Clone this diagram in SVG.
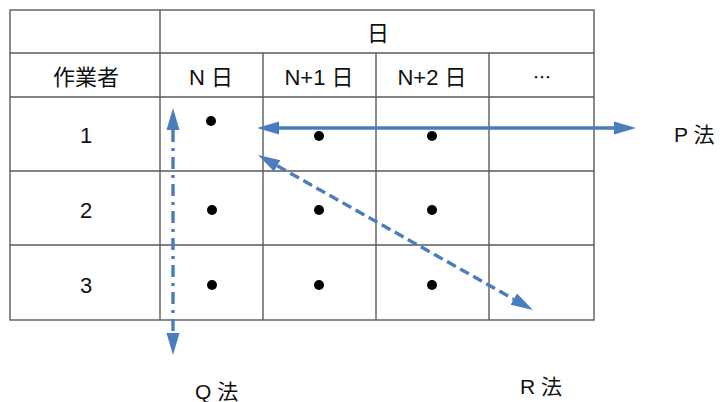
<svg xmlns="http://www.w3.org/2000/svg" width="726" height="402" viewBox="0 0 726 402">
<style>
.grid{stroke:#5a5a5a;stroke-width:1.4;fill:none}
.t{font-family:"Liberation Sans","Noto Sans CJK JP",sans-serif;font-size:22px;fill:#111;text-anchor:middle}
.lbl{font-family:"Liberation Sans","Noto Sans CJK JP",sans-serif;font-size:21px;fill:#111}
.dot{fill:#000}
.arr{stroke:#4a7dbd;stroke-width:3.4;fill:none}
</style>
<defs>
<marker id="ah" markerUnits="userSpaceOnUse" markerWidth="24" markerHeight="16" viewBox="0 -8 24 16" refX="0" refY="0" orient="auto-start-reverse">
<path d="M0,-6.5 L22,0 L0,6.5 z" fill="#4a7dbd"/>
</marker>
</defs>
<rect width="726" height="402" fill="#fff"/>
<g id="table">
<rect class="grid" x="10" y="10" width="584" height="310"/>
<line class="grid" x1="10" y1="53" x2="594" y2="53"/>
<line class="grid" x1="10" y1="97" x2="594" y2="97"/>
<line class="grid" x1="10" y1="171" x2="594" y2="171"/>
<line class="grid" x1="10" y1="245" x2="594" y2="245"/>
<line class="grid" x1="160" y1="10" x2="160" y2="320"/>
<line class="grid" x1="263" y1="53" x2="263" y2="320"/>
<line class="grid" x1="376" y1="53" x2="376" y2="320"/>
<line class="grid" x1="489" y1="53" x2="489" y2="320"/>
</g>
<g id="headers">
<text class="t" x="378" y="41">日</text>
<text class="t" x="86" y="85">作業者</text>
<text class="t" x="211" y="85">N 日</text>
<text class="t" x="319" y="85">N+1 日</text>
<text class="t" x="432" y="85">N+2 日</text>
<text class="t" x="542" y="84" style="font-family:'Noto Sans CJK JP',sans-serif;font-size:18px">…</text>
<text class="t" x="86" y="143">1</text>
<text class="t" x="86" y="218">2</text>
<text class="t" x="86" y="293">3</text>
</g>
<g id="dots">
<circle class="dot" cx="211" cy="121" r="5"/>
<circle class="dot" cx="319" cy="136" r="5"/>
<circle class="dot" cx="432" cy="136" r="5"/>
<circle class="dot" cx="212" cy="210" r="5"/>
<circle class="dot" cx="319" cy="210" r="5"/>
<circle class="dot" cx="432" cy="210" r="5"/>
<circle class="dot" cx="212" cy="285" r="5"/>
<circle class="dot" cx="319" cy="285" r="5"/>
<circle class="dot" cx="432" cy="285" r="5"/>
</g>
<g id="connectors">
<line id="P" class="arr" x1="279" y1="128" x2="614" y2="128" marker-start="url(#ah)" marker-end="url(#ah)"/>
<line id="Q" class="arr" x1="173" y1="130" x2="173" y2="333" stroke-dasharray="12 6 3 6" marker-start="url(#ah)" marker-end="url(#ah)"/>
<line id="R" class="arr" x1="277.2" y1="165.8" x2="513.8" y2="299.2" stroke-dasharray="10 5" marker-start="url(#ah)" marker-end="url(#ah)"/>
</g>
<g id="labels">
<text class="lbl" x="674" y="142">P 法</text>
<text class="lbl" x="195" y="399">Q 法</text>
<text class="lbl" x="520" y="394">R 法</text>
</g>
</svg>
